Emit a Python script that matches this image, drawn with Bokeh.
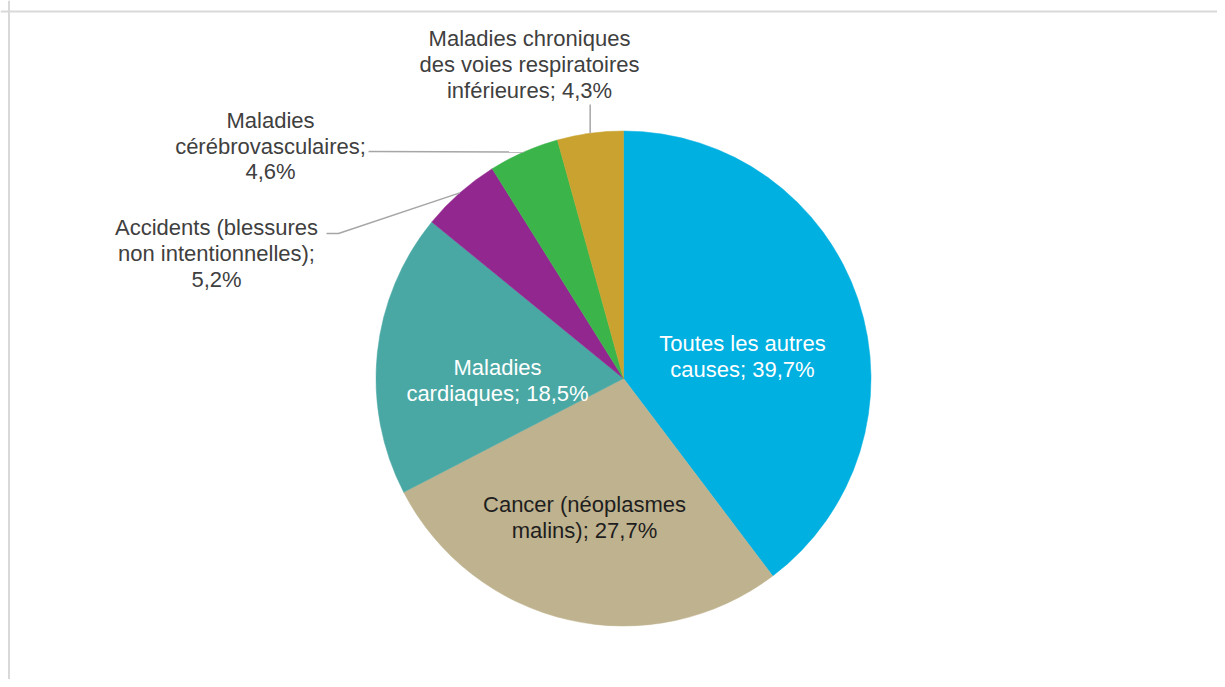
import math
from bokeh.plotting import figure
from bokeh.models import ColumnDataSource, Range1d, Span
from bokeh.core.properties import value
from bokeh.embed import file_html
from bokeh.resources import INLINE

# ---- data ----
categories = [
    "Toutes les autres causes",
    "Cancer (néoplasmes malins)",
    "Maladies cardiaques",
    "Accidents (blessures non intentionnelles)",
    "Maladies cérébrovasculaires",
    "Maladies chroniques des voies respiratoires inférieures",
]
values = [39.7, 27.7, 18.5, 5.2, 4.6, 4.3]
colors = ["#00b0e1", "#bfb28e", "#4aa8a4", "#92278f", "#3bb54a", "#c9a22f"]

# ---- label layout (wrapping, placement relative to pie centre, colour) ----
label_templates = [
    "Toutes les autres\ncauses; {v}",
    "Cancer (néoplasmes\nmalins); {v}",
    "Maladies\ncardiaques; {v}",
    "Accidents (blessures\nnon intentionnelles);\n{v}",
    "Maladies\ncérébrovasculaires;\n{v}",
    "Maladies chroniques\ndes voies respiratoires\ninférieures; {v}",
]
label_offsets = [(119, 22), (-39, -139), (-126, -2), (-407, 125), (-353, 232.5), (-94, 314)]
label_colors = ["#ffffff", "#1e1e1e", "#ffffff", "#404040", "#404040", "#404040"]
# leader line label-side points (None = inside label)
leader_pts = [None, None, None, [(-297, 145), (-285, 145)], [(-255, 227)], "vertical:274"]

W, H = 1217, 679
CX, CY = 623, 378          # pie centre (pixels from canvas top-left)
R = 247.5

p = figure(width=W, height=H, output_backend="svg", toolbar_location=None,
           x_range=Range1d(-CX, W - CX), y_range=Range1d(CY - H, CY),
           x_axis_type=None, y_axis_type=None, min_border=0)
p.grid.visible = False
p.outline_line_color = None
p.background_fill_color = "white"
p.border_fill_color = "white"

total = sum(values)
cum = 0.0
starts, ends, mids = [], [], []
for v in values:
    a0 = cum / total
    cum += v
    a1 = cum / total
    starts.append(math.pi / 2 - 2 * math.pi * a1)
    ends.append(math.pi / 2 - 2 * math.pi * a0)
    mids.append(math.pi / 2 - 2 * math.pi * (a0 + a1) / 2)

src = ColumnDataSource(dict(cat=categories, val=values, color=colors,
                            start=starts, end=ends))
p.wedge(x=0, y=0, radius=R, start_angle="start", end_angle="end",
        fill_color="color", line_color="color", line_width=0.5, source=src)

# leader lines
for i, lp in enumerate(leader_pts):
    if lp is None:
        continue
    ex, ey = R * math.cos(mids[i]), R * math.sin(mids[i])
    if isinstance(lp, str):
        ytop = float(lp.split(":")[1])
        xs, ys = [ex, ex], [ytop, ey]
    else:
        xs = [q[0] for q in lp] + [ex]
        ys = [q[1] for q in lp] + [ey]
    p.line(xs, ys, line_color="#a6a6a6", line_width=1.5)

def fmt(v):
    return ("%.1f" % v).replace(".", ",") + "%"

texts = [t.format(v=fmt(v)) for t, v in zip(label_templates, values)]
lsrc = ColumnDataSource(dict(x=[o[0] for o in label_offsets], y=[o[1] for o in label_offsets],
                             text=texts, color=label_colors))
p.text(x="x", y="y", text="text", text_color="color", source=lsrc,
       text_align="center", text_baseline="middle",
       text_font=value("Liberation Sans"), text_font_size="22px",
       text_line_height=1.03)

# chart frame (top and left edges visible)
p.add_layout(Span(location=8.5 - CX, dimension="height", line_color="#d9d9d9", line_width=2))
p.add_layout(Span(location=CY - 11, dimension="width", line_color="#d9d9d9", line_width=2))

open("out.html", "w").write(file_html(p, INLINE))
